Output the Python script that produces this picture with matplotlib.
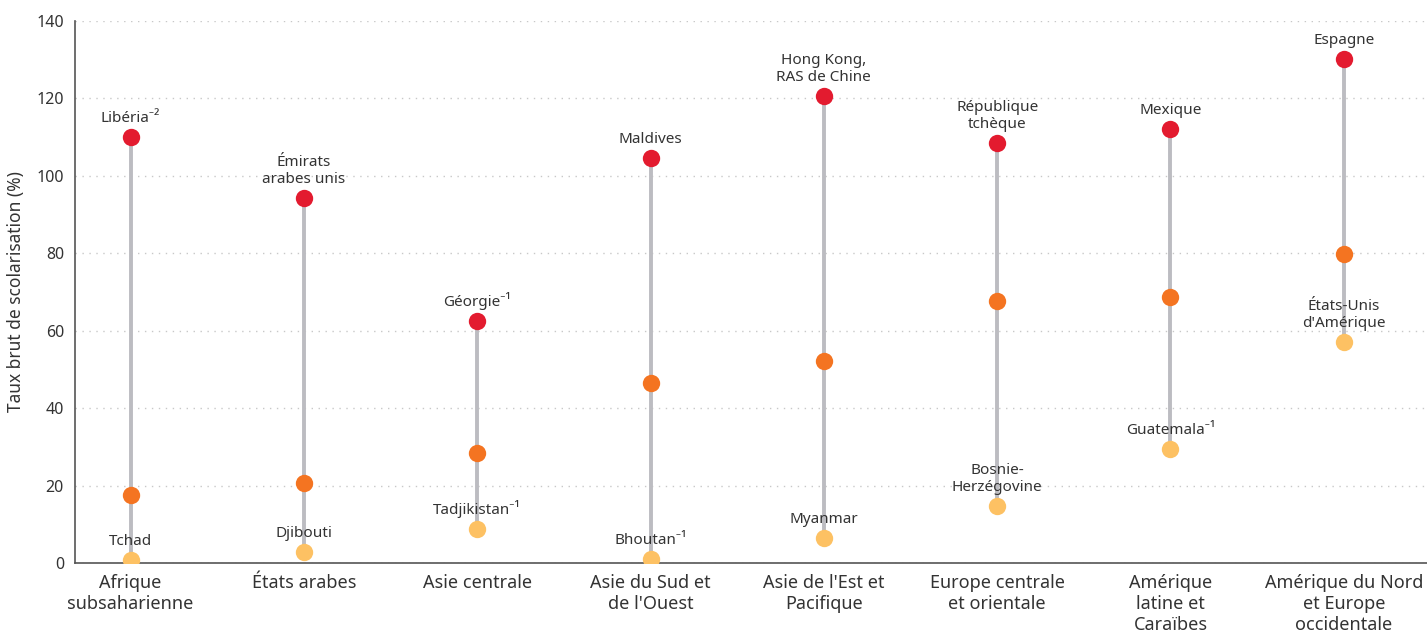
import numpy as np
import matplotlib.pyplot as plt

# --- donnees ---
regions = ["Afrique\nsubsaharienne", "États arabes", "Asie centrale",
           "Asie du Sud et\nde l'Ouest", "Asie de l'Est et\nPacifique",
           "Europe centrale\net orientale", "Amérique\nlatine et\nCaraïbes",
           "Amérique du Nord\net Europe\noccidentale"]
val_max = [110.0, 94.3, 62.5, 104.6, 120.6, 108.5, 112.1, 130.2]
val_med = [17.6, 20.7, 28.4, 46.5, 52.2, 67.7, 68.7, 79.8]
val_min = [0.8, 2.8, 8.8, 1.0, 6.5, 14.7, 29.4, 57.1]
lab_max = ["Libéria⁻²", "Émirats\narabes unis", "Géorgie⁻¹", "Maldives",
           "Hong Kong,\nRAS de Chine", "République\ntchèque", "Mexique", "Espagne"]
lab_min = ["Tchad", "Djibouti", "Tadjikistan⁻¹", "Bhoutan⁻¹", "Myanmar",
           "Bosnie-\nHerzégovine", "Guatemala⁻¹", "États-Unis\nd'Amérique"]

plt.rcParams['font.family'] = ['Noto Sans', 'DejaVu Sans']
txt_col = "#333333"

fig = plt.figure(figsize=(14.27, 6.37), dpi=100)
ax = fig.add_axes([0.0526, 0.1162, 0.9474, 0.851])

x = np.arange(len(regions))
ax.vlines(x, val_min, val_max, color="#bcbcc1", lw=2.8, zorder=2)
ax.plot(x, val_max, "o", color="#e31b2f", ms=12.5, mec="none", zorder=3)
ax.plot(x, val_med, "o", color="#f47421", ms=12.5, mec="none", zorder=3)
ax.plot(x, val_min, "o", color="#fdc163", ms=12.5, mec="none", zorder=3)

for i in range(len(regions)):
    ax.annotate(lab_max[i], (x[i], val_max[i]), xytext=(0, 8), textcoords="offset points",
                ha="center", va="bottom", fontsize=11, color=txt_col, linespacing=1.15)
    ax.annotate(lab_min[i], (x[i], val_min[i]), xytext=(0, 8), textcoords="offset points",
                ha="center", va="bottom", fontsize=11, color=txt_col, linespacing=1.15)

ax.set_xlim(-0.32, 7.48)
ax.set_ylim(0, 140)
ax.set_yticks(np.arange(0, 141, 20))
ax.set_xticks(x)
ax.set_xticklabels(regions, fontsize=13, color=txt_col, linespacing=1.2)
ax.tick_params(axis="both", length=0, labelcolor=txt_col)
ax.tick_params(axis="x", pad=8)
ax.tick_params(axis="y", labelsize=11.5, pad=8)
ax.yaxis.grid(True, linestyle=(0, (1, 4)), color="#c8c8c8", lw=1)
ax.set_axisbelow(True)
for s in ["top", "right"]:
    ax.spines[s].set_visible(False)
for s in ["left", "bottom"]:
    ax.spines[s].set_color("#555555")
    ax.spines[s].set_linewidth(1.2)
ax.set_ylabel("Taux brut de scolarisation (%)", fontsize=12.5, color=txt_col, labelpad=8)

fig.savefig("out.png", dpi=100)
